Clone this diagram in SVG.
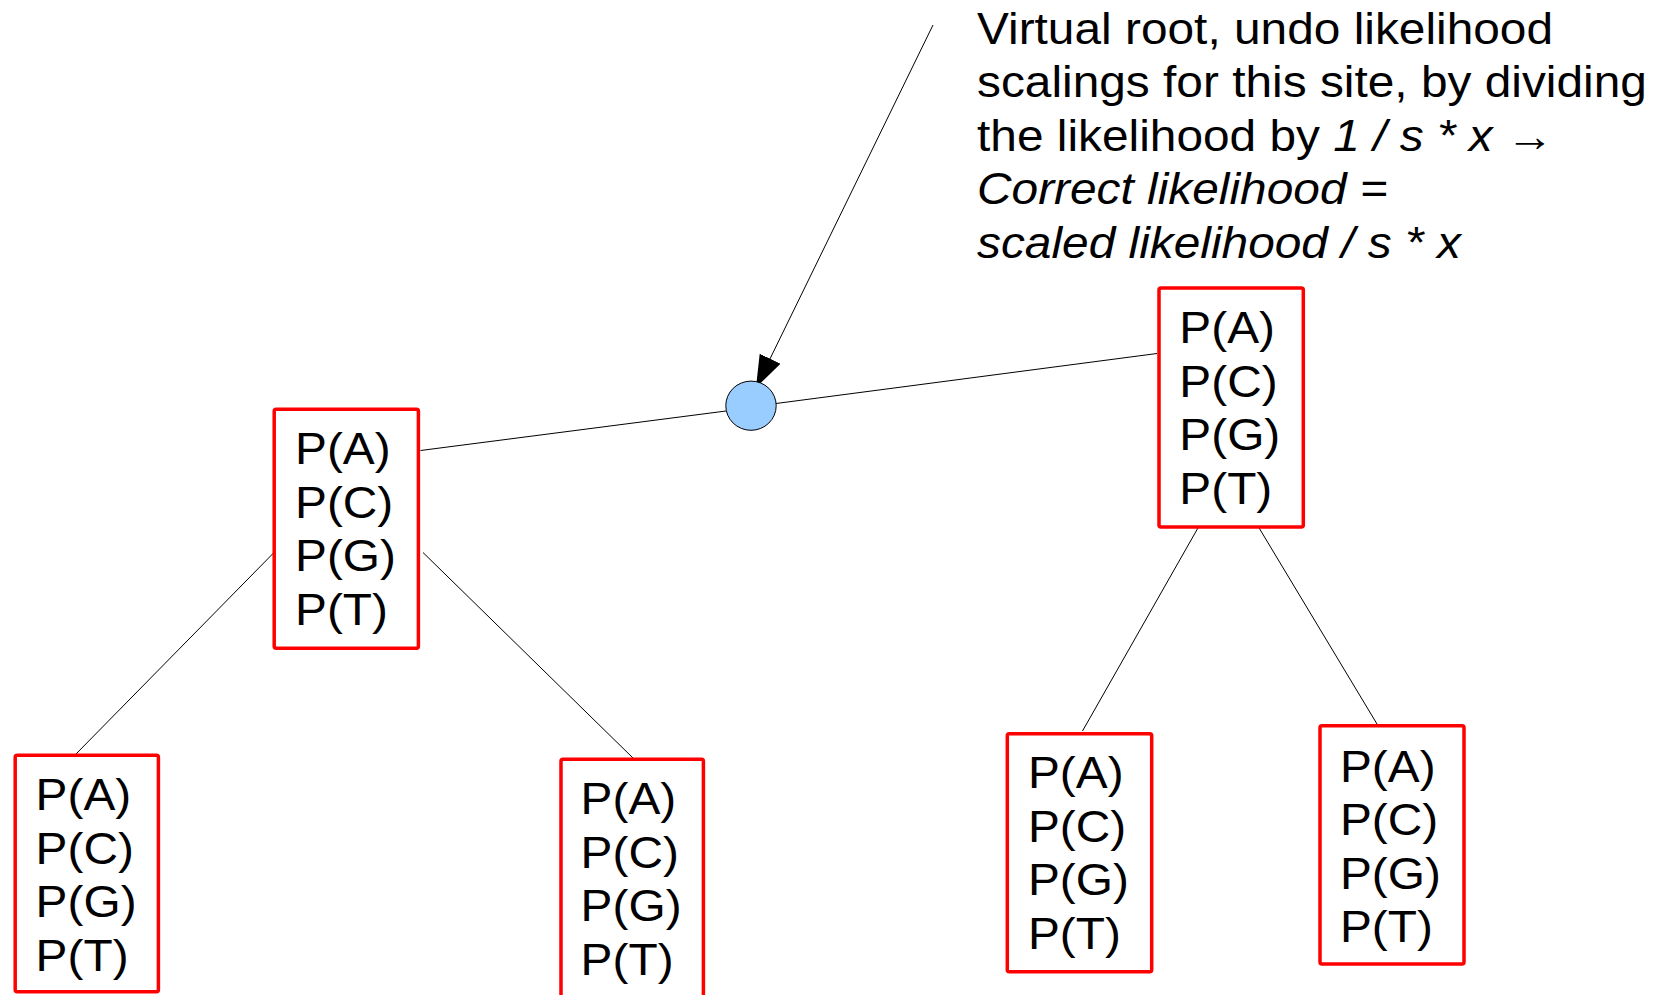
<svg xmlns="http://www.w3.org/2000/svg" width="1661" height="995" viewBox="0 0 1661 995">
<defs>
<style>
.box{fill:#ffffff;stroke:#ff0000;stroke-width:3.5;}
.lbl{font-family:"Liberation Sans",Arial,sans-serif;font-size:44.5px;fill:#000000;}
.edge{stroke:#000000;stroke-width:1;fill:none;}
.it{font-style:italic;}
</style>
<marker id="ah" markerUnits="userSpaceOnUse" markerWidth="34" markerHeight="24" refX="32" refY="11.5" orient="auto">
<path d="M0,0 L32,11.5 L0,23 Z" fill="#000000"/>
</marker>
</defs>
<rect width="1661" height="995" fill="#ffffff"/>
<g id="connectors">
<line class="edge" x1="420.5" y1="450.5" x2="726" y2="411"/>
<line class="edge" x1="776" y1="403.5" x2="1157" y2="353.5"/>
<line class="edge" x1="274" y1="552.5" x2="75" y2="755"/>
<line class="edge" x1="423" y1="552.5" x2="634" y2="759"/>
<line class="edge" x1="1198.5" y1="527" x2="1082.5" y2="731"/>
<line class="edge" x1="1258.5" y1="527" x2="1377" y2="724"/>
<line class="edge" x1="933" y1="25" x2="756" y2="387.5" marker-end="url(#ah)"/>
</g>
<g id="virtual-root">
<ellipse cx="751" cy="405.7" rx="25.2" ry="24.6" fill="#99ccff" stroke="#000000" stroke-width="1"/>
</g>
<g id="caption">
<text class="lbl" transform="translate(977,43.5) scale(1.075,1)">Virtual root, undo likelihood</text>
<text class="lbl" transform="translate(977,97.2) scale(1.075,1)">scalings for this site, by dividing</text>
<text class="lbl" transform="translate(977,150.8) scale(1.075,1)">the likelihood by <tspan class="it">1 / s * x</tspan> →</text>
<text class="lbl it" transform="translate(977,204.4) scale(1.075,1)">Correct likelihood =</text>
<text class="lbl it" transform="translate(977,258) scale(1.075,1)">scaled likelihood / s * x</text>
</g>
<g id="node-mid-left">
<rect class="box" x="274.2" y="409.3" width="144.2" height="239" rx="2"/>
<text class="lbl" transform="translate(295,464.3) scale(1.075,1)">P(A)</text>
<text class="lbl" transform="translate(295,517.8) scale(1.075,1)">P(C)</text>
<text class="lbl" transform="translate(295,571.3) scale(1.075,1)">P(G)</text>
<text class="lbl" transform="translate(295,624.8) scale(1.075,1)">P(T)</text>
</g>
<g id="node-top-right">
<rect class="box" x="1159" y="288" width="144.3" height="239" rx="2"/>
<text class="lbl" transform="translate(1179.3,343.3) scale(1.075,1)">P(A)</text>
<text class="lbl" transform="translate(1179.3,396.8) scale(1.075,1)">P(C)</text>
<text class="lbl" transform="translate(1179.3,450.3) scale(1.075,1)">P(G)</text>
<text class="lbl" transform="translate(1179.3,503.8) scale(1.075,1)">P(T)</text>
</g>
<g id="node-bottom-1">
<rect class="box" x="15.2" y="755.3" width="143.2" height="236.5" rx="2"/>
<text class="lbl" transform="translate(35.6,810) scale(1.075,1)">P(A)</text>
<text class="lbl" transform="translate(35.6,863.5) scale(1.075,1)">P(C)</text>
<text class="lbl" transform="translate(35.6,917) scale(1.075,1)">P(G)</text>
<text class="lbl" transform="translate(35.6,970.5) scale(1.075,1)">P(T)</text>
</g>
<g id="node-bottom-2">
<rect class="box" x="561" y="759.3" width="142.4" height="239" rx="2"/>
<text class="lbl" transform="translate(580.6,814) scale(1.075,1)">P(A)</text>
<text class="lbl" transform="translate(580.6,867.5) scale(1.075,1)">P(C)</text>
<text class="lbl" transform="translate(580.6,921) scale(1.075,1)">P(G)</text>
<text class="lbl" transform="translate(580.6,974.5) scale(1.075,1)">P(T)</text>
</g>
<g id="node-bottom-3">
<rect class="box" x="1007.3" y="733.7" width="144.4" height="238" rx="2"/>
<text class="lbl" transform="translate(1027.9,788.3) scale(1.075,1)">P(A)</text>
<text class="lbl" transform="translate(1027.9,841.8) scale(1.075,1)">P(C)</text>
<text class="lbl" transform="translate(1027.9,895.3) scale(1.075,1)">P(G)</text>
<text class="lbl" transform="translate(1027.9,948.8) scale(1.075,1)">P(T)</text>
</g>
<g id="node-bottom-4">
<rect class="box" x="1320" y="725.7" width="144" height="238.3" rx="2"/>
<text class="lbl" transform="translate(1339.9,781.7) scale(1.075,1)">P(A)</text>
<text class="lbl" transform="translate(1339.9,835.2) scale(1.075,1)">P(C)</text>
<text class="lbl" transform="translate(1339.9,888.7) scale(1.075,1)">P(G)</text>
<text class="lbl" transform="translate(1339.9,942.2) scale(1.075,1)">P(T)</text>
</g>
</svg>
